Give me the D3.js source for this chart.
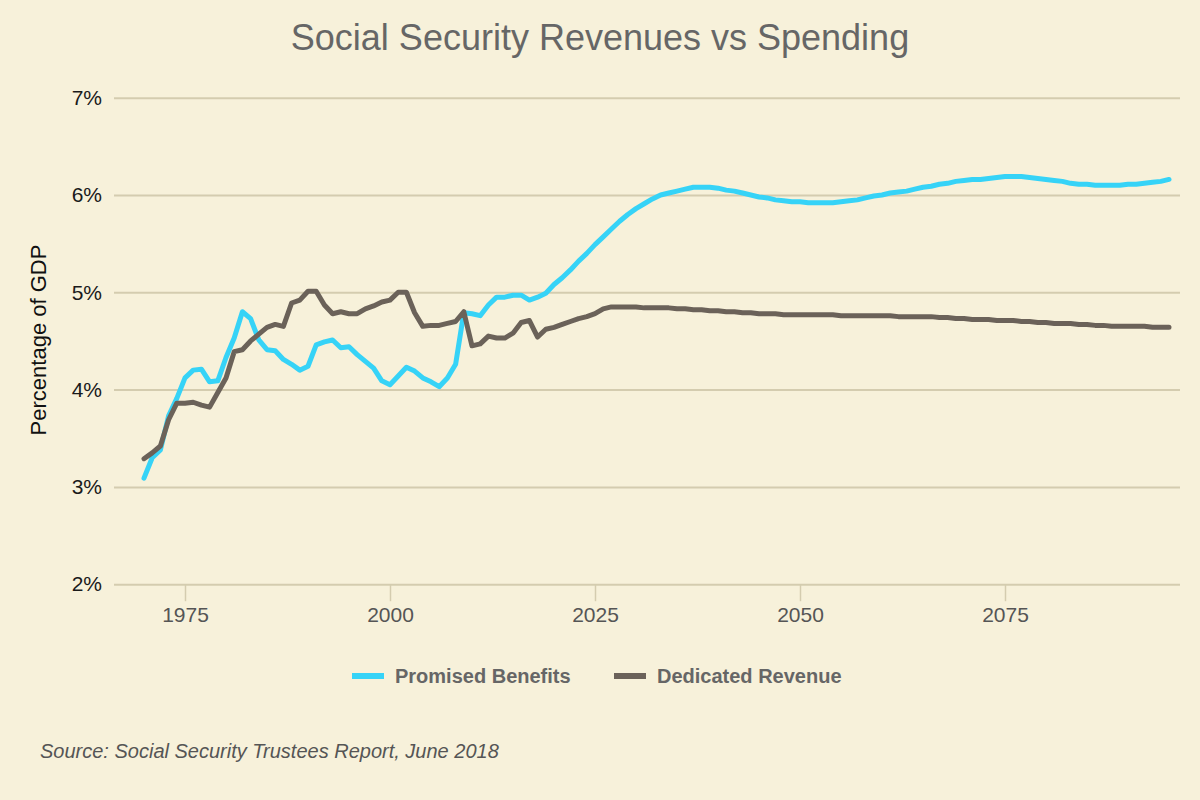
<html>
<head>
	<meta charset="utf-8">
	<script src="https://d3js.org/d3.v7.min.js"></script>
	<style>
		body { margin: 0; background: #f7f1da; }
	</style>
</head>
<body>
	<script>
		// years on the x axis
		var years = d3.range(1970, 2096);

		// Promised Benefits, % of GDP (1970..2095)
		var promised = [
			3.09, 3.30, 3.38, 3.73, 3.91, 4.12, 4.20, 4.21, 4.08, 4.09,
			4.33, 4.53, 4.80, 4.73, 4.51, 4.41, 4.40, 4.31, 4.26, 4.20,
			4.24, 4.46, 4.49, 4.51, 4.43, 4.44, 4.36, 4.29, 4.22, 4.09,
			4.05, 4.14, 4.23, 4.19, 4.12, 4.08, 4.03, 4.12, 4.26, 4.79,
			4.78, 4.76, 4.87, 4.95, 4.95, 4.97, 4.97, 4.92, 4.95, 4.99,
			5.08, 5.15, 5.23, 5.32, 5.40, 5.49, 5.57, 5.65, 5.73, 5.80,
			5.86, 5.91, 5.96, 6.00, 6.02, 6.04, 6.06, 6.08, 6.08, 6.08,
			6.07, 6.05, 6.04, 6.02, 6.00, 5.98, 5.97, 5.95, 5.94, 5.93,
			5.93, 5.92, 5.92, 5.92, 5.92, 5.93, 5.94, 5.95, 5.97, 5.99,
			6.00, 6.02, 6.03, 6.04, 6.06, 6.08, 6.09, 6.11, 6.12, 6.14,
			6.15, 6.16, 6.16, 6.17, 6.18, 6.19, 6.19, 6.19, 6.18, 6.17,
			6.16, 6.15, 6.14, 6.12, 6.11, 6.11, 6.10, 6.10, 6.10, 6.10,
			6.11, 6.11, 6.12, 6.13, 6.14, 6.16
		];

		// Dedicated Revenue, % of GDP (1970..2095)
		var revenue = [
			3.29, 3.35, 3.42, 3.69, 3.86, 3.86, 3.87, 3.84, 3.82, 3.97,
			4.12, 4.39, 4.41, 4.50, 4.57, 4.64, 4.67, 4.65, 4.89, 4.92,
			5.01, 5.01, 4.87, 4.78, 4.80, 4.78, 4.78, 4.83, 4.86, 4.90,
			4.92, 5.00, 5.00, 4.79, 4.65, 4.66, 4.66, 4.68, 4.70, 4.80,
			4.45, 4.47, 4.55, 4.53, 4.53, 4.58, 4.69, 4.71, 4.54, 4.62,
			4.64, 4.67, 4.70, 4.73, 4.75, 4.78, 4.83, 4.85, 4.85, 4.85,
			4.85, 4.84, 4.84, 4.84, 4.84, 4.83, 4.83, 4.82, 4.82, 4.81,
			4.81, 4.80, 4.80, 4.79, 4.79, 4.78, 4.78, 4.78, 4.77, 4.77,
			4.77, 4.77, 4.77, 4.77, 4.77, 4.76, 4.76, 4.76, 4.76, 4.76,
			4.76, 4.76, 4.75, 4.75, 4.75, 4.75, 4.75, 4.74, 4.74, 4.73,
			4.73, 4.72, 4.72, 4.72, 4.71, 4.71, 4.71, 4.70, 4.70, 4.69,
			4.69, 4.68, 4.68, 4.68, 4.67, 4.67, 4.66, 4.66, 4.65, 4.65,
			4.65, 4.65, 4.65, 4.64, 4.64, 4.64
		];

		var xTicks = [1975, 2000, 2025, 2050, 2075];
		var yTicks = [2, 3, 4, 5, 6, 7];
		var seriesNames = ["Promised Benefits", "Dedicated Revenue"];
		var seriesColors = ["#36d3f7", "#6b6259"];

		var w = 1200, h = 800;
		var gridLeft = 114, gridRight = 1180;
		var gridColor = "#d4ccaf";
		var font = "'Liberation Sans', Arial, sans-serif";

		var x = d3.scaleLinear().domain([1970, 2095]).range([144, 1169]);
		var y = d3.scaleLinear().domain([2, 7]).range([584.2, 97.7]);

		var svg = d3.select("body").append("svg").attr("width", w).attr("height", h)
			.style("font-family", font);

		svg.append("rect").attr("width", w).attr("height", h).attr("fill", "#f7f1da");

		// title
		svg.append("text").attr("x", 600).attr("y", 50).attr("text-anchor", "middle")
			.attr("font-size", 36).attr("fill", "#666")
			.text("Social Security Revenues vs Spending");

		// horizontal grid + y labels
		var yAxis = d3.axisLeft(y).tickValues(yTicks).tickFormat(function(d){ return d + "%"; })
			.tickSize(-(gridRight - gridLeft)).tickPadding(12);
		var gy = svg.append("g").attr("transform", "translate(" + gridLeft + ",0)").call(yAxis);
		gy.select(".domain").remove();
		gy.selectAll(".tick line").attr("stroke", gridColor).attr("stroke-width", 2);
		gy.selectAll(".tick text").attr("font-size", 21).attr("fill", "#1a1a1a").attr("font-family", font);

		// x axis ticks
		var xAxis = d3.axisBottom(x).tickValues(xTicks).tickFormat(d3.format("d"))
			.tickSize(17).tickPadding(6);
		var gx = svg.append("g").attr("transform", "translate(0," + y(2) + ")").call(xAxis);
		gx.select(".domain").remove();
		gx.selectAll(".tick line").attr("stroke", gridColor).attr("stroke-width", 1.5);
		gx.selectAll(".tick text").attr("font-size", 21).attr("fill", "#555").attr("font-family", font);

		// y axis title
		svg.append("text").attr("transform", "translate(46,340) rotate(-90)")
			.attr("text-anchor", "middle").attr("font-size", 22).attr("fill", "#111")
			.text("Percentage of GDP");

		// lines (revenue on top)
		var line = d3.line().x(function(d, i){ return x(years[i]); }).y(function(d){ return y(d); });
		[promised, revenue].forEach(function(s, i){
			svg.append("path").attr("d", line(s)).attr("fill", "none")
				.attr("stroke", seriesColors[i]).attr("stroke-width", 5)
				.attr("stroke-linejoin", "round").attr("stroke-linecap", "round");
		});

		// legend
		var legendX = [352, 614];
		seriesNames.forEach(function(name, i){
			var g = svg.append("g").attr("transform", "translate(" + legendX[i] + ",676)");
			g.append("rect").attr("x", 0).attr("y", -3).attr("width", 32).attr("height", 6)
				.attr("fill", seriesColors[i]);
			g.append("text").attr("x", 43).attr("y", 7).attr("font-size", 20)
				.attr("font-weight", "bold").attr("fill", "#666")
				.text(name);
		});

		// source
		svg.append("text").attr("x", 40).attr("y", 758).attr("font-size", 20)
			.attr("font-style", "italic").attr("fill", "#555")
			.text("Source: Social Security Trustees Report, June 2018");
	</script>
</body>
</html>
